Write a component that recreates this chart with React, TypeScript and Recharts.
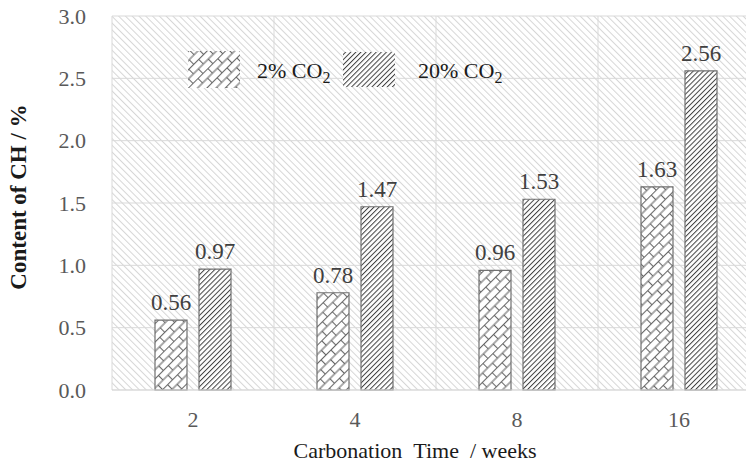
import { BarChart, Bar, XAxis, YAxis, CartesianGrid, LabelList, Label } from 'recharts';

// weeks of carbonation
const weeks = ['2', '4', '8', '16'];
// CH content (%) under each CO2 level
const co2Low = [0.56, 0.78, 0.96, 1.63];
const co2High = [0.97, 1.47, 1.53, 2.56];
const yTicks = [0, 0.5, 1.0, 1.5, 2.0, 2.5, 3.0];
const seriesNames = ['2% CO', '20% CO'];

const data = weeks.map((w, i) => ({ week: w, low: co2Low[i], high: co2High[i] }));

const FONT = '"Liberation Serif", "Times New Roman", serif';

function Patterns({ prefix }: { prefix: string }) {
  return (
    <defs>
      <pattern id={`${prefix}bg`} width="4.8" height="4.8" patternUnits="userSpaceOnUse" patternTransform="rotate(-45)">
        <rect width="4.8" height="4.8" fill="#fff" />
        <line x1="0.5" y1="0" x2="0.5" y2="4.8" stroke="#d6d6d6" strokeWidth="1" />
      </pattern>
      <pattern id={`${prefix}dense`} width="3.6" height="3.6" patternUnits="userSpaceOnUse" patternTransform="rotate(45)">
        <rect width="3.6" height="3.6" fill="#fff" />
        <line x1="0.5" y1="0" x2="0.5" y2="3.6" stroke="#404040" strokeWidth="1" />
      </pattern>
      <pattern id={`${prefix}brick`} width="14" height="13" patternUnits="userSpaceOnUse" patternTransform="rotate(-45)">
        <rect width="14" height="13" fill="#fff" />
        <line x1="0" y1="0.5" x2="14" y2="0.5" stroke="#666" strokeWidth="1.1" />
        <line x1="0" y1="7" x2="14" y2="7" stroke="#666" strokeWidth="1.1" />
        <line x1="0.5" y1="0.5" x2="0.5" y2="7" stroke="#666" strokeWidth="1.1" />
        <line x1="7.5" y1="7" x2="7.5" y2="13" stroke="#666" strokeWidth="1.1" />
      </pattern>
    </defs>
  );
}

function LegendOverlay() {
  const textStyle = { fontFamily: FONT, fontSize: 22, fill: '#1a1a1a' };
  return (
    <svg width={754} height={120} style={{ position: 'absolute', left: 0, top: 0, pointerEvents: 'none' }}>
      <Patterns prefix="lg-" />
      <rect x={188} y={51} width={52} height={37} fill="url(#lg-brick)" />
      <text x={257} y={78} {...textStyle}>
        {seriesNames[0]}
        <tspan fontSize={16} dy={5}>2</tspan>
      </text>
      <rect x={343} y={52} width={52} height={35} fill="url(#lg-dense)" />
      <text x={418} y={78} {...textStyle}>
        {seriesNames[1]}
        <tspan fontSize={16} dy={5}>2</tspan>
      </text>
    </svg>
  );
}

export default function App() {
  return (
    <div style={{ margin: -8, width: 754, height: 468, overflow: 'hidden', position: 'relative', background: '#fff' }}>
      <BarChart
        width={762}
        height={468}
        data={data}
        margin={{ top: 16, right: 2, left: 0, bottom: 0 }}
        barGap={12}
        barSize={32}
      >
        <Patterns prefix="ch-" />
        <CartesianGrid
          stroke="#d9d9d9"
          fill="url(#ch-bg)"
          fillOpacity={1}
          verticalCoordinatesGenerator={({ offset }: any) =>
            [0, 1, 2, 3, 4].map((i) => offset.left + (i * offset.width) / weeks.length)
          }
        />
        <XAxis
          dataKey="week"
          height={78}
          axisLine={{ stroke: '#d9d9d9' }}
          tickLine={false}
          tickSize={0}
          tickMargin={21}
          tick={{ fontFamily: FONT, fontSize: 22, fill: '#595959' }}
        >
          <Label
            value={'Carbonation \u00A0Time \u00A0/ weeks'}
            position="insideBottom"
            offset={10}
            dx={-21}
            style={{ fontFamily: FONT, fontSize: 22, fill: '#1a1a1a' }}
          />
        </XAxis>
        <YAxis
          width={112}
          domain={[0, 3]}
          ticks={yTicks}
          interval={0}
          axisLine={false}
          tickLine={false}
          tickSize={0}
          tickMargin={26}
          tickFormatter={(v: number) => v.toFixed(1)}
          tick={{ fontFamily: FONT, fontSize: 22, fill: '#595959' }}
        >
          <Label
            value="Content of CH / %"
            angle={-90}
            position="insideLeft"
            offset={18}
            dy={-6}
            style={{ fontFamily: FONT, fontSize: 23, fontWeight: 'bold', fill: '#1a1a1a', textAnchor: 'middle' }}
          />
        </YAxis>
        <Bar dataKey="low" name="2% CO2" fill="url(#ch-brick)" stroke="#707070" strokeWidth={1.2} isAnimationActive={false}>
          <LabelList
            dataKey="low"
            position="top"
            offset={10}
            formatter={(v: any) => Number(v).toFixed(2)}
            style={{ fontFamily: FONT, fontSize: 23, fill: '#404040' }}
          />
        </Bar>
        <Bar dataKey="high" name="20% CO2" fill="url(#ch-dense)" stroke="#707070" strokeWidth={1.2} isAnimationActive={false}>
          <LabelList
            dataKey="high"
            position="top"
            offset={10}
            formatter={(v: any) => Number(v).toFixed(2)}
            style={{ fontFamily: FONT, fontSize: 23, fill: '#404040' }}
          />
        </Bar>
      </BarChart>
      <LegendOverlay />
    </div>
  );
}
